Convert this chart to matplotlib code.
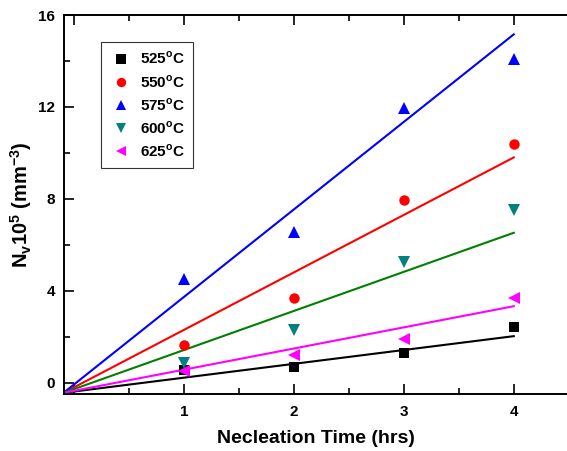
import matplotlib
matplotlib.use("Agg")
import matplotlib.pyplot as plt
from matplotlib.ticker import MultipleLocator

plt.rcParams['font.family'] = ['Liberation Sans', 'DejaVu Sans']
plt.rcParams['font.weight'] = 'bold'
plt.rcParams['mathtext.default'] = 'bf'

# nucleation time (hrs)
hours = [1, 2, 3, 4]

# N_v x 10^5 (mm^-3) for each annealing temperature
nv_525 = [0.55, 0.67, 1.28, 2.41]
nv_550 = [1.64, 3.68, 7.93, 10.4]
nv_575 = [4.50, 6.55, 11.95, 14.1]
nv_600 = [0.85, 2.30, 5.23, 7.52]
nv_625 = [0.52, 1.21, 1.89, 3.70]

labels = ['525$^\\mathregular{o}$C', '550$^\\mathregular{o}$C', '575$^\\mathregular{o}$C',
          '600$^\\mathregular{o}$C', '625$^\\mathregular{o}$C']

# linear fits: common start point and slope of each fitted line
fit_x0, fit_y0 = -0.1, -0.45
fit_x1 = 4.0
fit_slope = [0.602, 2.50, 3.807, 1.70, 0.920]

series = [nv_525, nv_550, nv_575, nv_600, nv_625]
markers = ['s', 'o', '^', 'v', '<']
mcolors = ['black', '#ff0000', '#0000ff', '#008080', '#ff00ff']
lcolors = ['black', '#ff0000', '#0000ff', '#008000', '#ff00ff']

fig = plt.figure(figsize=(5.67, 4.51), dpi=100)
ax = fig.add_axes([0.112, 0.1264, 0.891, 0.8403])

handles = []
for vals, m, mc, lc, lab, k in zip(series, markers, mcolors, lcolors, labels, fit_slope):
    ax.plot([fit_x0, fit_x1], [fit_y0, fit_y0 + k * (fit_x1 - fit_x0)],
            color=lc, lw=1.5, zorder=2)
    ms = 7.5 if m == 's' or m == 'o' else 8.5
    h, = ax.plot(hours, vals, ls='none', marker=m, color=mc, ms=ms, mew=0,
                 label=lab, zorder=3)
    handles.append(h)

ax.set_xlim(-0.1, 4.5)
ax.set_ylim(-0.5, 16)
ax.set_xticks([0, 1, 2, 3, 4])
ax.set_xticklabels(['', '1', '2', '3', '4'])
ax.set_yticks([0, 4, 8, 12, 16])
ax.xaxis.set_minor_locator(MultipleLocator(0.5))
ax.yaxis.set_minor_locator(MultipleLocator(2))
ax.tick_params(which='both', direction='in', top=True, right=False,
               width=1.2, labelsize=11)
ax.tick_params(axis='x', which='major', pad=8)
ax.tick_params(axis='y', which='major', pad=6)
ax.tick_params(which='major', length=7)
ax.tick_params(which='minor', length=4)
for s in ['left', 'bottom', 'top']:
    ax.spines[s].set_linewidth(1.4)
ax.spines['right'].set_visible(False)

ax.set_xlabel('Necleation Time (hrs)', fontsize=14, fontweight='bold', labelpad=8)
ax.set_ylabel('N$_\\mathregular{v}$10$^\\mathregular{5}$ (mm$^\\mathregular{-3}$)',
              fontsize=14.5, fontweight='bold', labelpad=3)

leg = ax.legend(handles=handles, loc='upper left', bbox_to_anchor=(0.074, 0.929),
                borderaxespad=0, fancybox=False, frameon=True, fontsize=11,
                handletextpad=0.5, labelspacing=0.42, borderpad=0.55,
                handlelength=1.5, markerscale=0.9)
leg.get_frame().set_edgecolor('black')
leg.get_frame().set_linewidth(0.8)
for t in leg.get_texts():
    t.set_fontweight('bold')

fig.savefig('out.png', dpi=100)
